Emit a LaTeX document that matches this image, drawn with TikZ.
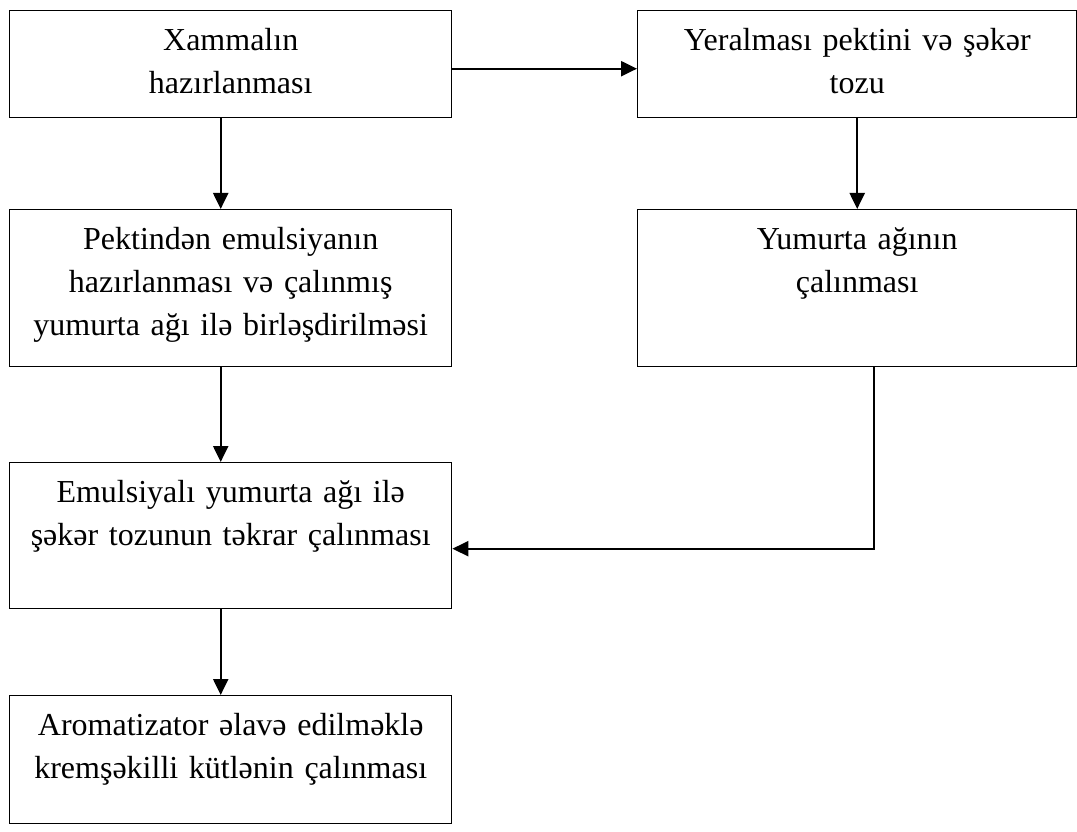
\documentclass[tikz,border=0pt]{standalone}
\usepackage{fontspec}
\setmainfont{Liberation Serif}
\usetikzlibrary{arrows.meta}
\tikzset{
  flowbox/.style={draw, line width=1.4pt, anchor=north west, inner xsep=6pt, inner ysep=0pt,
    text width=430pt, align=center, text height=40pt,
    font=\fontsize{32}{43}\selectfont},
  widebox/.style={flowbox, text width=427pt},
  arr/.style={line width=2.2pt, -{Triangle[length=16pt,width=15pt]}}
}
\begin{document}
\begin{tikzpicture}[x=1pt,y=1pt]
\useasboundingbox (0,0) rectangle (1077,-832);
\node[flowbox, text depth=67pt] (b1) at (9,-10) {Xammalın\\hazırlanması};
\node[widebox, text depth=67pt] (b2) at (637,-10) {Yeralması pektini və şəkər\\tozu};
\node[flowbox, text depth=117pt] (b3) at (9,-209) {Pektindən emulsiyanın\\hazırlanması və çalınmış\\yumurta ağı ilə birləşdirilməsi};
\node[widebox, text depth=117pt] (b4) at (637,-209) {Yumurta ağının\\çalınması};
\node[flowbox, text depth=106pt] (b5) at (9,-462) {Emulsiyalı yumurta ağı ilə\\şəkər tozunun təkrar çalınması};
\node[flowbox, text depth=88pt] (b6) at (9,-695) {Aromatizator əlavə edilməklə\\kremşəkilli kütlənin çalınması};
\draw[arr] ([yshift=-4.5pt]b1.east) -- ([yshift=-4.5pt]b2.west);
\draw[arr] ([xshift=-10pt]b1.south) -- ([xshift=-10pt]b3.north);
\draw[arr] (b2.south) -- (b4.north);
\draw[arr] ([xshift=-10pt]b3.south) -- ([xshift=-10pt]b5.north);
\draw[arr] ([xshift=16.5pt]b4.south) |- ([yshift=-13pt]b5.east);
\draw[arr] ([xshift=-10pt]b5.south) -- ([xshift=-10pt]b6.north);
\end{tikzpicture}
\end{document}
